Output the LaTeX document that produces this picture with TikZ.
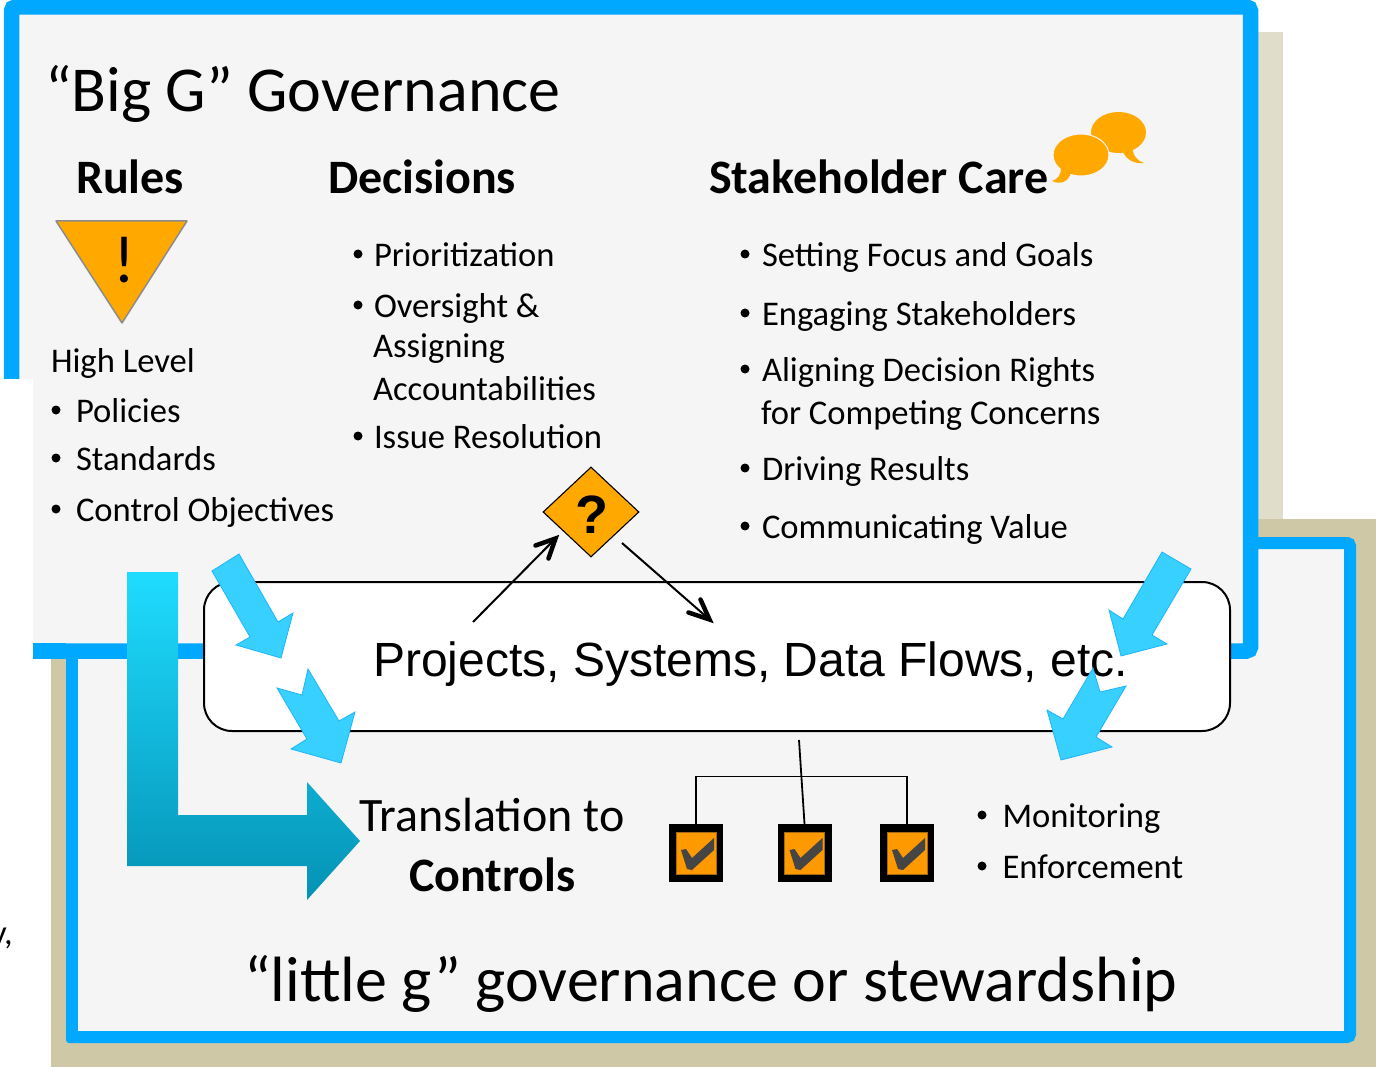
\documentclass[tikz,border=0pt]{standalone}
\usepackage{fontspec}
\setmainfont{Carlito}
\newfontfamily\arialf{Liberation Sans}
\usetikzlibrary{shapes.geometric}
\definecolor{skyb}{HTML}{00A8FF}
\definecolor{panelg}{HTML}{F5F5F5}
\definecolor{tanA}{HTML}{CFC8A6}
\definecolor{tanB}{HTML}{E0DDCB}
\definecolor{orng}{HTML}{FFA800}
\definecolor{chkfill}{HTML}{FF9900}
\definecolor{chkedge}{HTML}{A86A10}
\definecolor{chkmark}{HTML}{454545}
\definecolor{arrowb}{HTML}{38D0FF}
\definecolor{arrowe}{HTML}{1FB4FF}
\definecolor{gradtop}{HTML}{1FDCFF}
\definecolor{gradbot}{HTML}{0492B5}
\newcommand{\fsz}[1]{\fontsize{#1}{#1}\selectfont}
\tikzset{
  txt/.style={anchor=base west,inner sep=0pt,outer sep=0pt,text=black},
  body/.style={txt,font=\fsz{34.6}},
  head/.style={txt,font=\fsz{48}\bfseries},
  title/.style={txt,font=\fsz{64}},
  dot/.style={circle,fill=black,inner sep=0pt,minimum size=9pt},
  blockarrow/.style={fill=arrowb,draw=arrowe,line width=0.8pt,line join=miter},
  thinline/.style={line width=2pt},
  barb/.style={line width=4.5pt,line cap=round,line join=miter},
  wire/.style={line width=1.8pt,draw=black},
  checkouter/.style={rectangle,fill=black,minimum width=54pt,minimum height=58pt,inner sep=0pt},
  checkinner/.style={rectangle,fill=chkfill,draw=chkedge,line width=0.8pt,minimum width=40pt,minimum height=42pt,inner sep=0pt},
}
\newcommand{\chk}[3]{% name, cx, cy
  \node[checkouter] (#1) at (#2,#3) {};
  \node[checkinner] (#1i) at (#1) {};
  \fill[chkmark,shift={(#2,#3)}] (-15,-3) -- (-10,-4) -- (-4,5) -- (18,-15) -- (18,-3) -- (-4,17) -- (-9,16) -- cycle;
}
\begin{document}
\begin{tikzpicture}[x=1pt,y=-1pt]
\useasboundingbox (0,0) rectangle (1376,1067);
% lower panel backing and panel
\fill[tanA] (51,519) rectangle (1376,1067);
\fill[panelg,draw=skyb,line width=12pt,rounded corners=3pt] (72,543) rectangle (1350,1037);
% upper panel backing
\fill[tanB] (1200,32) rectangle (1283,519);
% upper panel
\fill[panelg,draw=skyb,line width=15.5pt,rounded corners=4pt] (11.5,7) rectangle (1250.5,651);
% cut-out on the left
\fill[white] (0,379) rectangle (33,1067);
\fill[white] (0,659) rectangle (51,1067);
\fill[tanA] (51,659) rectangle (66,1067);
\fill[skyb] (33,643) rectangle (66,659);
\fill[skyb,rounded corners=3pt] (66,650) -- (66,1043) -- (78,1043) -- (78,650) -- cycle;
\fill[panelg] (78,659) rectangle (205,1031);
\node[txt,font=\fsz{34.6}] (stray) at (-9,944) {y,};
% titles
\node[title] (bigg) at (45,112) {“Big G” Governance};
\node[head] (rules) at (76,194) {Rules};
\node[head] (decisions) at (328,194) {Decisions};
\node[head] (stake) at (709,194) {Stakeholder Care};
% speech bubbles
\fill[orng] (1118.5,132.5) ellipse [x radius=27.5,y radius=20.5];
\fill[orng] (1132,146) .. controls (1133,156) and (1137,161) .. (1144,163) .. controls (1134,164) and (1126,160) .. (1122,150) -- cycle;
\fill[orng,draw=panelg,line width=1pt] (1081,155) ellipse [x radius=28,y radius=21];
\fill[orng] (1061,168) .. controls (1061,175) and (1058,179) .. (1052,181) .. controls (1060,185) and (1069,182) .. (1071,172) -- cycle;
% triangle
\draw[fill=orng,draw=black!45,line width=1.5pt,line join=round] (56,221) -- (187,221) -- (122,323) -- cycle;
\node[txt,anchor=base,font=\fsz{67}] (bang) at (124,283) {!};
% Rules list
\node[body] (hl) at (51,372) {High Level};
\node[dot] (r1d) at (56,410) {}; \node[body] (r1) at (76,422) {Policies};
\node[dot] (r2d) at (56,458) {}; \node[body] (r2) at (76,470) {Standards};
\node[dot] (r3d) at (56,509) {}; \node[body] (r3) at (76,521) {Control Objectives};
% Decisions list
\node[dot] (d1d) at (358,254) {}; \node[body] (d1) at (374,267) {Prioritization};
\node[dot] (d2d) at (358,305) {}; \node[body] (d2) at (374,318) {Oversight \&};
\node[body] (d2b) at (373,357) {Assigning};
\node[body] (d2c) at (373,400) {Accountabilities};
\node[dot] (d3d) at (358,436) {}; \node[body] (d3) at (374,448) {Issue Resolution};
% Stakeholder list
\node[dot] (s1d) at (745,254) {}; \node[body] (s1) at (762,267) {Setting Focus and Goals};
\node[dot] (s2d) at (745,313) {}; \node[body] (s2) at (762,326) {Engaging Stakeholders};
\node[dot] (s3d) at (745,369) {}; \node[body] (s3) at (762,381) {Aligning Decision Rights};
\node[body] (s3b) at (761,424) {for Competing Concerns};
\node[dot] (s4d) at (745,468) {}; \node[body] (s4) at (762,480) {Driving Results};
\node[dot] (s5d) at (745,526) {}; \node[body] (s5) at (762,538) {Communicating Value};
% Projects box
\node[rectangle,rounded corners=28pt,draw=black,fill=white,line width=2pt,minimum width=1026pt,minimum height=149pt,inner sep=0pt] (proj) at (717,656.5) {};
\node[txt,font=\arialf\fsz{48}] (projt) at (373,676) {Projects, Systems, Data Flows, etc.};
% diamond
\node[diamond,fill=orng,draw=black,line width=1.1pt,minimum width=96pt,minimum height=90pt,inner sep=0pt] (dia) at (591,512) {};
\node[txt,anchor=base,font=\arialf\bfseries\fsz{54}] (q) at (592,533) {?};
\coordinate (a1s) at (473,622); \coordinate (a1e) at (555.5,538.5);
\coordinate (a2s) at (622,543); \coordinate (a2e) at (709.5,619.5);
\draw[thinline] (a1s) -- (a1e);
\draw[barb] ([shift={(-20,7)}]a1e) -- (a1e) -- ([shift={(-7,20)}]a1e);
\draw[thinline] (a2s) -- (a2e);
\draw[barb] ([shift={(-21,-7)}]a2e) -- (a2e) -- ([shift={(-9,-20)}]a2e);
% big gradient arrow
\shade[top color=gradtop,bottom color=gradbot] (127,572) -- (178,572) -- (178,815) -- (307,815) -- (307,782) -- (360,841) -- (307,900) -- (307,866) -- (127,866) -- cycle;
% block arrows
\draw[blockarrow] (212,571) -- (239,554) -- (278,622) -- (293,613) -- (281,658) -- (236,645) -- (250,637) -- cycle;
\draw[blockarrow] (308,669) -- (339,721) -- (355,712) -- (341,763) -- (291,749) -- (307,739) -- (277,688) -- (302,695) -- cycle;
\draw[blockarrow] (1162,552) -- (1191,569) -- (1152,635) -- (1167,644) -- (1121,656) -- (1109,610) -- (1123,619) -- cycle;
\draw[blockarrow] (1093,668) -- (1100,692) -- (1126,686) -- (1096,737) -- (1112,747) -- (1061,760) -- (1047,710) -- (1063,719) -- cycle;
% controls
\node[txt,anchor=base,font=\fsz{48}] (trans) at (492,831.5) {Translation to};
\node[txt,anchor=base,font=\fsz{48}\bfseries] (ctrl) at (492.5,891) {Controls};
\chk{cb1}{696}{853}
\chk{cb2}{804.5}{853}
\chk{cb3}{907}{853}
\coordinate (stem) at (799,740);
\draw[wire] (cb1.north) |- (cb3.north |- 0,776.5) -- (cb3.north);
\draw[wire] (stem) -- (cb2.north);
\node[dot] (m1d) at (982,815) {}; \node[body] (m1) at (1002.5,827) {Monitoring};
\node[dot] (m2d) at (982,866) {}; \node[body] (m2) at (1002.5,878) {Enforcement};
\node[title] (little) at (244,1001) {“little g” governance or stewardship};
\end{tikzpicture}
\end{document}
